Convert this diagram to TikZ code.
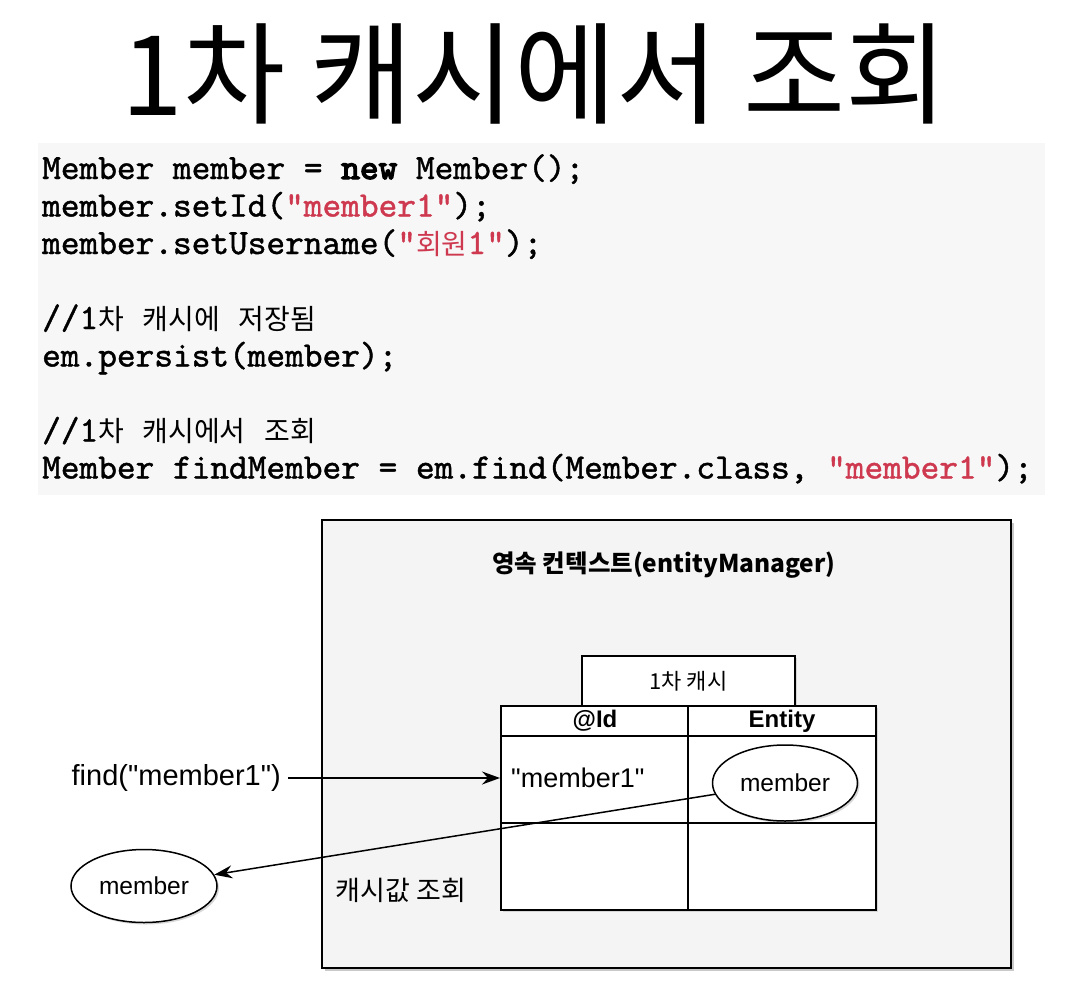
\documentclass[tikz,border=0pt]{standalone}
\usepackage{fontspec}
\setmainfont{Liberation Sans}[Ligatures=TeXOff]
\newfontfamily\kr{Noto Sans CJK KR}
\newfontfamily\codef{lmmono10-regular.otf}[FakeBold=1.2]
\newfontfamily\codeb{lmmono10-regular.otf}[FakeBold=3.8]
\usetikzlibrary{arrows.meta,shadows,shapes.geometric}
\definecolor{codebg}{HTML}{F7F7F7}
\definecolor{boxbg}{HTML}{F4F4F4}
\definecolor{strred}{RGB}{206,57,79}
\newcommand\kc[1]{{\kr\fontsize{28}{30}\selectfont #1}}
\newcommand\rs[1]{\textcolor{strred}{#1}}
\tikzset{
  codeline/.style={anchor=base west, inner sep=0, font=\codef\fontsize{35.6}{37.5}\selectfont},
  outerbox/.style={draw, line width=2pt, fill=boxbg, inner sep=0,
    drop shadow={shadow xshift=3pt, shadow yshift=-3pt, opacity=0.35, fill=black!60}},
  whitebox/.style={draw, line width=1.6pt, fill=white, inner sep=0,
    drop shadow={shadow xshift=2pt, shadow yshift=-2pt, opacity=0.25, fill=black!50}},
  oval/.style={ellipse, draw, line width=1.5pt, fill=white, inner sep=0,
    drop shadow={shadow xshift=2pt, shadow yshift=-2pt, opacity=0.3, fill=black!50}},
  lbl/.style={inner sep=0},
  arr/.style={line width=1.5pt, -{Stealth[length=18pt,width=13pt,inset=6pt]}},
}
\begin{document}
\begin{tikzpicture}[x=1pt,y=-1pt]
\useasboundingbox (0,0) rectangle (1092,998);
\fill[white] (0,0) rectangle (1092,998);

% title
\node[lbl, font=\kr\fontsize{111}{115}\selectfont] (title) at (535,74) {1차 캐시에서 조회};

% code block
\node[fill=codebg, minimum width=1007, minimum height=352, inner sep=0] (codebox) at (541.5,319) {};
\node[codeline] (c1) at (42,179) {Member member = {\codeb new} Member();};
\node[codeline] (c2) at (42,216.5) {member.setId(\rs{"member1"});};
\node[codeline] (c3) at (42,254) {member.setUsername(\rs{"\kc{회원}1"});};
\node[codeline] (c4) at (42,329) {//1\kc{차} \kc{캐시에} \kc{저장됨}};
\node[codeline] (c5) at (42,366.5) {em.persist(member);};
\node[codeline] (c6) at (42,441.5) {//1\kc{차} \kc{캐시에서} \kc{조회}};
\node[codeline] (c7) at (42,478.5) {Member findMember = em.find(Member.class, \rs{"member1"});};

% persistence context
\node[outerbox, minimum width=689, minimum height=448] (ctx) at (666.5,744) {};
\node[lbl, font=\kr\bfseries\fontsize{24.5}{26}\selectfont] (ctxlabel) at (664,565) {영속 컨텍스트(entityManager)};

% first-level cache
\node[whitebox, minimum width=213, minimum height=50] (cache) at (688.5,681) {};
\node[lbl, font=\kr\fontsize{22}{24}\selectfont] (cachelabel) at (cache.center) {1차 캐시};

\node[whitebox, line width=2pt, minimum width=375, minimum height=204] (tbl) at (688.5,808) {};
\draw[line width=2pt] (501,736) -- (876,736);
\draw[line width=2pt] (501,823) -- (876,823);
\draw[line width=2pt] (688,706) -- (688,910);

\node[lbl, font=\bfseries\fontsize{24}{26}\selectfont] (idh) at (595,721) {@Id};
\node[lbl, font=\bfseries\fontsize{24}{26}\selectfont] (enth) at (782,721) {Entity};
\node[lbl, anchor=west, font=\fontsize{27}{29}\selectfont] (idval) at (511,778) {"member1"};
\node[oval, minimum width=145, minimum height=76, font=\fontsize{24.5}{26}\selectfont] (ent) at (785,783) {member};

% outside
\node[lbl, anchor=east, font=\fontsize{29}{31}\selectfont] (find) at (281,778) {find("member1")};
\node[oval, minimum width=146, minimum height=73, font=\fontsize{24.5}{26}\selectfont] (mem2) at (144,886) {member};
\node[lbl, font=\kr\fontsize{27}{29}\selectfont] (lookup) at (401,890) {캐시값 조회};

\draw[arr, shorten <=7pt] (find.east) -- (find.east -| tbl.west);
\draw[arr] (ent) -- (mem2);
\end{tikzpicture}
\end{document}
